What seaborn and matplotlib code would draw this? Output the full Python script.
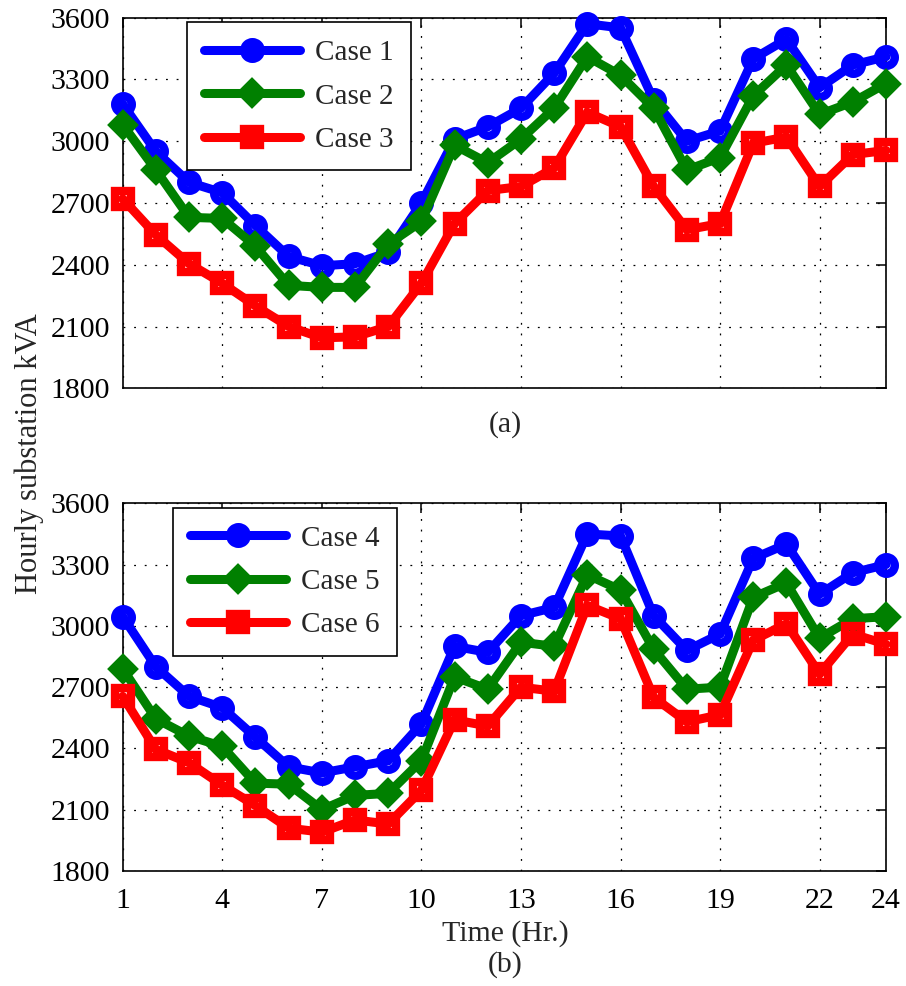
import numpy as np
import pandas as pd
import matplotlib
matplotlib.use("Agg")
import matplotlib.pyplot as plt
import seaborn as sns

hours = list(range(1, 25))

case1 = [3180, 2950, 2800, 2750, 2590, 2440, 2395, 2405, 2460, 2700, 3010, 3070,
         3160, 3330, 3570, 3550, 3200, 3000, 3050, 3400, 3495, 3260, 3370, 3410]
case2 = [3080, 2860, 2630, 2625, 2490, 2300, 2290, 2290, 2500, 2610, 2980, 2895,
         3010, 3160, 3410, 3320, 3160, 2860, 2920, 3220, 3370, 3130, 3190, 3280]
case3 = [2720, 2545, 2405, 2310, 2200, 2100, 2045, 2050, 2100, 2310, 2600, 2760,
         2780, 2870, 3140, 3070, 2780, 2570, 2600, 2990, 3020, 2780, 2935, 2955]

case4 = [3045, 2800, 2655, 2600, 2455, 2310, 2280, 2310, 2340, 2520, 2900, 2870,
         3050, 3090, 3450, 3440, 3050, 2880, 2960, 3330, 3400, 3155, 3260, 3300]
case5 = [2790, 2545, 2460, 2410, 2230, 2225, 2100, 2170, 2180, 2340, 2750, 2690,
         2920, 2900, 3250, 3175, 2885, 2690, 2700, 3140, 3210, 2940, 3035, 3045]
case6 = [2655, 2395, 2330, 2220, 2120, 2010, 1990, 2050, 2030, 2195, 2540, 2510,
         2700, 2680, 3100, 3035, 2650, 2530, 2565, 2930, 3010, 2765, 2960, 2910]

top_labels = ["Case 1", "Case 2", "Case 3"]
bottom_labels = ["Case 4", "Case 5", "Case 6"]
xticks = [1, 4, 7, 10, 13, 16, 19, 22, 24]
yticks = [1800, 2100, 2400, 2700, 3000, 3300, 3600]

colors = ["#0000ff", "#008000", "#ff0000"]
markers = ["o", "D", "s"]
msizes = [12, 10, 12]

sns.set_style("white")
plt.rcParams["font.family"] = ["Liberation Serif", "DejaVu Serif"]
plt.rcParams["font.size"] = 21.5

FS = 21.5
fig = plt.figure(figsize=(9.06, 9.86), dpi=100)
W, H = 906.0, 986.0
L, R = 122.7, 886.0
T1, B1 = 17.6, 388.3
T2, B2 = 503.3, 871.0
ax1 = fig.add_axes([L / W, 1 - B1 / H, (R - L) / W, (B1 - T1) / H])
ax2 = fig.add_axes([L / W, 1 - B2 / H, (R - L) / W, (B2 - T2) / H])


def draw(ax, series, labels, legend_box):
    for s, lab, c, m, ms in zip(series, labels, colors, markers, msizes):
        df = pd.DataFrame({"hour": hours, "kva": s})
        sns.lineplot(data=df, x="hour", y="kva", ax=ax, color=c, linewidth=6.5,
                     marker=m, markersize=ms, markerfacecolor="none",
                     markeredgecolor=c, markeredgewidth=6, label=lab,
                     solid_joinstyle="miter", clip_on=False, zorder=3)
    ax.set_xlim(1, 24)
    ax.set_ylim(1800, 3600)
    ax.set_xticks(xticks)
    ax.set_yticks(yticks)
    ax.set_xlabel("")
    ax.set_ylabel("")
    ax.grid(True, color="black", linewidth=0.9, linestyle=(0, (1.5, 7)))
    ax.set_axisbelow(True)
    for sp in ax.spines.values():
        sp.set_visible(True)
        sp.set_color("black")
        sp.set_linewidth(1.2)
    ax.tick_params(direction="in", length=7, width=1.1, top=True, right=True,
                   labelsize=FS, colors="black")
    ax.tick_params(axis="y", pad=9)
    ax.tick_params(axis="x", pad=12)
    leg = ax.legend(loc="upper left", bbox_to_anchor=legend_box, frameon=True,
                    fancybox=False, edgecolor="black", fontsize=21,
                    handlelength=3.3, borderpad=0.6, labelspacing=0.58,
                    handletextpad=0.5, borderaxespad=0)
    leg.get_frame().set_linewidth(1.2)
    leg.get_frame().set_alpha(1)
    leg.set_zorder(5)


aw = R - L
draw(ax1, [case1, case2, case3], top_labels,
     ((186.7 - L) / aw, 1 - (22.3 - T1) / (B1 - T1)))
draw(ax2, [case4, case5, case6], bottom_labels,
     ((172.7 - L) / aw, 1 - (507.7 - T2) / (B2 - T2)))
ax1.tick_params(labelbottom=False)

fig.text(505 / W, 1 - 425 / H, "(a)", ha="center", va="center", fontsize=FS)
fig.text(505 / W, 1 - 934 / H, "Time (Hr.)", ha="center", va="center", fontsize=FS)
fig.text(505 / W, 1 - 965 / H, "(b)", ha="center", va="center", fontsize=FS)
fig.text(29 / W, 1 - 454 / H, "Hourly substation kVA", rotation=90,
         ha="center", va="center", fontsize=22)

fig.savefig("out.png", dpi=100)
